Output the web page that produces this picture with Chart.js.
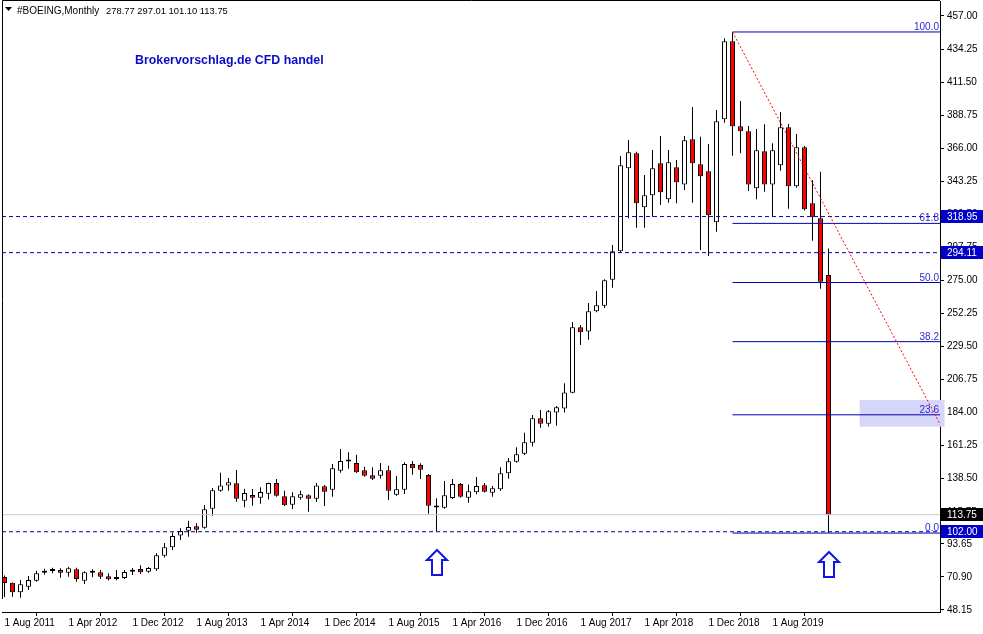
<!DOCTYPE html>
<html>
<head>
<meta charset="utf-8">
<script src="https://cdn.jsdelivr.net/npm/chart.js@4.4.1/dist/chart.umd.min.js"></script>
<style>
  html, body { margin: 0; padding: 0; background: #fff; }
  #wrap { width: 983px; height: 634px; }
</style>
</head>
<body>
<div id="wrap"><canvas id="myChart" width="983" height="634"></canvas></div>
<script>
// monthly candles, Aug 2011 .. Mar 2020 (index 0 = Aug 2011)
const opens = [
  70.8, 66.9, 60.3, 64.2, 68.3, 73.8, 75.0, 75.7, 73.8, 76.1,
  68.3, 73.8, 74.1, 71.3, 69.5, 70.2, 74.4, 76.4, 74.5, 76.1,
  85.5, 91.3, 99.5, 102.7, 105.7, 104.8, 117.9, 130.3, 133.9, 135.3,
  123.4, 127.3, 125.4, 128.2, 135.5, 126.4, 120.6, 125.4, 127.1, 124.7,
  133.3, 130.9, 144.0, 150.4, 149.3, 144.3, 140.9, 140.6, 144.3, 127.5,
  130.9, 148.6, 147.9, 141.1, 119.2, 118.6, 125.2, 134.9, 125.4, 129.1,
  134.0, 128.9, 131.2, 142.2, 150.2, 155.7, 163.3, 180.1, 176.4, 184.0,
  186.9, 197.7, 242.7, 239.9, 253.7, 257.6, 275.5, 295.0, 352.2, 362.5,
  325.3, 333.6, 355.6, 330.8, 352.9, 341.1, 372.1, 354.9, 350.1, 315.0,
  385.9, 439.6, 381.1, 377.6, 338.4, 363.9, 341.1, 354.2, 380.4, 339.8,
  366.6, 328.1, 317.8, 278.77
];
const highs = [
  71.8, 67.1, 68.8, 71.5, 75.2, 76.6, 77.3, 76.9, 77.9, 77.3,
  74.8, 76.1, 75.6, 73.4, 75.6, 75.6, 77.0, 79.0, 77.7, 87.2,
  94.3, 101.5, 104.4, 109.6, 107.8, 120.4, 132.1, 142.6, 139.0, 144.5,
  131.6, 131.4, 132.6, 135.8, 138.3, 130.3, 129.2, 130.3, 127.8, 135.5,
  134.2, 148.6, 158.9, 156.7, 155.0, 146.8, 146.4, 149.3, 147.5, 140.4,
  149.8, 150.7, 149.1, 141.8, 125.0, 136.9, 138.3, 135.5, 134.6, 139.7,
  135.5, 133.5, 146.4, 152.8, 160.1, 170.2, 182.4, 185.8, 185.8, 188.6,
  204.2, 246.4, 244.3, 259.4, 267.7, 275.8, 299.4, 360.6, 371.6, 363.5,
  347.6, 364.8, 374.4, 364.8, 357.9, 374.4, 394.4, 373.9, 368.9, 392.3,
  441.6, 446.0, 398.5, 381.3, 379.2, 382.5, 369.4, 390.9, 382.7, 375.8,
  367.5, 343.9, 349.8, 297.01
];
const lows = [
  57.0, 57.3, 56.6, 61.9, 67.5, 72.4, 73.4, 70.4, 71.1, 67.6,
  66.0, 70.6, 69.4, 68.5, 68.6, 69.4, 72.3, 73.0, 73.8, 74.9,
  84.2, 89.5, 96.3, 98.6, 101.3, 104.1, 113.0, 129.5, 130.3, 122.7,
  118.8, 119.9, 121.3, 124.2, 126.1, 119.8, 117.7, 124.0, 115.8, 122.5,
  119.7, 126.1, 142.6, 145.4, 142.5, 139.9, 137.6, 138.5, 123.9, 126.8,
  128.0, 141.3, 138.3, 114.4, 102.5, 117.9, 124.5, 125.4, 122.0, 127.8,
  129.0, 126.1, 130.0, 138.5, 149.5, 154.8, 160.6, 173.6, 174.5, 175.0,
  184.0, 197.3, 230.5, 234.2, 253.0, 256.0, 270.0, 294.0, 317.7, 311.3,
  311.3, 318.9, 326.9, 328.5, 328.1, 337.2, 328.5, 295.9, 291.8, 308.5,
  383.6, 360.8, 362.5, 336.5, 330.8, 336.1, 318.9, 350.5, 324.4, 338.8,
  323.2, 302.3, 269.3, 101.10
];
const closes = [
  66.7, 60.3, 65.8, 68.8, 73.4, 75.2, 75.3, 73.8, 76.8, 69.4,
  74.1, 74.3, 71.1, 69.3, 70.2, 74.3, 75.0, 74.1, 77.0, 85.8,
  91.3, 99.1, 102.5, 105.3, 103.4, 117.4, 130.5, 133.9, 136.0, 124.7,
  128.7, 125.4, 129.4, 135.5, 126.8, 120.2, 126.4, 127.8, 124.7, 133.9,
  129.6, 145.7, 150.7, 150.9, 142.9, 140.6, 138.5, 144.3, 130.2, 131.2,
  148.6, 145.7, 144.7, 119.9, 118.7, 127.1, 134.9, 126.1, 129.8, 133.5,
  129.6, 131.9, 142.2, 150.5, 155.3, 163.6, 180.1, 176.4, 184.9, 187.7,
  197.9, 242.7, 239.3, 253.7, 257.9, 275.1, 295.0, 354.2, 363.2, 328.1,
  333.6, 352.2, 335.7, 356.3, 342.5, 371.4, 355.6, 346.7, 319.8, 384.5,
  439.6, 381.1, 377.6, 341.1, 364.6, 341.1, 364.6, 380.4, 339.8, 366.6,
  323.9, 318.5, 274.1, 113.75
];

// time axis
const tickIdx = [0, 8, 16, 24, 32, 40, 48, 56, 64, 72, 80, 88, 96];
const tickLabels = ['1 Aug 2011', '1 Apr 2012', '1 Dec 2012', '1 Aug 2013', '1 Apr 2014',
  '1 Dec 2014', '1 Aug 2015', '1 Apr 2016', '1 Dec 2016', '1 Aug 2017', '1 Apr 2018',
  '1 Dec 2018', '1 Aug 2019'];
// price axis
const priceTicks = [457.00, 434.25, 411.50, 388.75, 366.00, 343.25, 320.50, 297.75, 275.00,
  252.25, 229.50, 206.75, 184.00, 161.25, 138.50, 115.75, 93.65, 70.90, 48.15];

// drawn objects
const hLevels = [318.95, 294.11];
const lowLevel = 102.00;
const bidLevel = 113.75;
const fibHigh = 446.0, fibLow = 101.10, fibStart = 91;
const fibRatios = [1.0, 0.618, 0.5, 0.382, 0.236, 0.0];
const fibNames = ['100.0', '61.8', '50.0', '38.2', '23.6', '0.0'];
const trendX = [91, 117];
const trendY = [446.0, 175.5];
const zoneX = [106.9, 117.5];
const zoneY = [174.3, 192.7];
const arrowIdx = [54, 103];
const arrowTop = [89.4, 88.3];
const tagValues = [318.95, 294.11, 113.75, 102.00];
const tagColors = ['#0000c8', '#0000c8', '#000000', '#0000c8'];

const X_MIN = -0.3125, X_MAX = 116.9375;
const Y_MIN = 46.76, Y_MAX = 467.32;

const hLine = (v, x0, x1, color, dash) => ({
  type: 'line',
  data: [{x: x0, y: v}, {x: x1, y: v}],
  borderColor: color, borderWidth: 1, borderDash: dash,
  pointRadius: 0, order: 2
});

const datasets = [];
datasets.push({
  type: 'line',
  data: trendX.map((x, i) => ({x: x, y: trendY[i]})),
  borderColor: '#ff0000', borderWidth: 1, borderDash: [2, 2],
  pointRadius: 0, order: 0
});
hLevels.forEach(v => datasets.push(hLine(v, X_MIN, X_MAX + 1, '#0000c8', [4, 3])));
datasets.push(hLine(lowLevel, X_MIN, X_MAX + 1, '#0000a0', [4, 3]));
datasets.push(hLine(bidLevel, X_MIN, X_MAX + 1, '#c8c8d2', []));
fibRatios.forEach(r => datasets.push(
  hLine(fibLow + r * (fibHigh - fibLow), fibStart, X_MAX + 1, '#0000b4', [])));

datasets.push({
  type: 'bar',
  data: opens.map((o, i) => ({x: i, y: [o, closes[i]]})),
  backgroundColor: opens.map((o, i) => closes[i] >= o ? '#ffffff' : '#ff0000'),
  borderColor: '#000000', borderWidth: 1, borderSkipped: false,
  barThickness: 5, minBarLength: 2, grouped: false, inflateAmount: 0, order: 5
});
datasets.push({
  type: 'bar',
  data: highs.map((h, i) => ({x: i, y: [lows[i], h]})),
  backgroundColor: '#000000', borderWidth: 0,
  barThickness: 1, grouped: false, inflateAmount: 0, order: 6
});

const overlay = {
  id: 'overlay',
  beforeDatasetsDraw(chart) {
    const {ctx, scales: {x, y}} = chart;
    const x0 = x.getPixelForValue(zoneX[0]), x1 = x.getPixelForValue(zoneX[1]);
    const y0 = y.getPixelForValue(zoneY[1]), y1 = y.getPixelForValue(zoneY[0]);
    ctx.save();
    ctx.fillStyle = '#d6d6fa';
    ctx.fillRect(x0, y0, x1 - x0, y1 - y0);
    ctx.restore();
  },
  afterDatasetsDraw(chart) {
    const {ctx, chartArea: a, scales: {x, y}} = chart;
    ctx.save();
    // fib labels
    ctx.font = '10px "Liberation Sans"';
    ctx.fillStyle = '#2a2ad2';
    ctx.textAlign = 'right';
    ctx.textBaseline = 'alphabetic';
    fibRatios.forEach((r, i) => {
      const py = y.getPixelForValue(fibLow + r * (fibHigh - fibLow));
      ctx.fillText(fibNames[i], a.right - 1, py - 2);
    });
    // arrows
    ctx.strokeStyle = '#1414e6';
    ctx.fillStyle = '#ffffff';
    ctx.lineWidth = 2;
    arrowIdx.forEach((idx, i) => {
      const cx = Math.round(x.getPixelForValue(idx));
      const t = Math.round(y.getPixelForValue(arrowTop[i]));
      ctx.beginPath();
      ctx.moveTo(cx, t);
      ctx.lineTo(cx + 10, t + 10);
      ctx.lineTo(cx + 5, t + 10);
      ctx.lineTo(cx + 5, t + 25);
      ctx.lineTo(cx - 5, t + 25);
      ctx.lineTo(cx - 5, t + 10);
      ctx.lineTo(cx - 10, t + 10);
      ctx.closePath();
      ctx.fill();
      ctx.stroke();
    });
    // frame (left, top)
    ctx.strokeStyle = '#000';
    ctx.lineWidth = 1;
    ctx.beginPath();
    ctx.moveTo(2.5, a.bottom - 13);
    ctx.lineTo(2.5, 0.5);
    ctx.lineTo(a.right, 0.5);
    ctx.stroke();
    // header
    ctx.fillStyle = '#000';
    ctx.beginPath();
    ctx.moveTo(5, 7); ctx.lineTo(12, 7); ctx.lineTo(8.5, 11); ctx.closePath();
    ctx.fill();
    ctx.textAlign = 'left';
    ctx.font = '10px "Liberation Sans"';
    ctx.fillText('#BOEING,Monthly', 17, 14);
    ctx.font = '9.4px "Liberation Sans"';
    ctx.fillText('278.77 297.01 101.10 113.75', 106, 14);
    // brand
    ctx.font = 'bold 12.4px "Liberation Sans"';
    ctx.fillStyle = '#0c0cc8';
    ctx.fillText('Brokervorschlag.de CFD handel', 135, 64);
    ctx.restore();
  },
  afterDraw(chart) {
    const {ctx, chartArea: a, scales: {y}} = chart;
    ctx.save();
    ctx.font = '10px "Liberation Sans"';
    ctx.textAlign = 'left';
    ctx.textBaseline = 'middle';
    tagValues.forEach((v, i) => {
      const py = Math.round(y.getPixelForValue(v));
      ctx.fillStyle = tagColors[i];
      ctx.fillRect(a.right + 1, py - 7, 42, 13);
      ctx.fillStyle = '#ffffff';
      ctx.fillText(v.toFixed(2), a.right + 7, py);
    });
    ctx.restore();
  }
};

Chart.defaults.font.family = '"Liberation Sans", Arial, sans-serif';
Chart.defaults.font.size = 10;
Chart.defaults.color = '#000';

const noPad = s => { s.paddingTop = 0; s.paddingBottom = 0; s.paddingLeft = 0; s.paddingRight = 0; };

const config = {
  type: 'bar',
  data: {datasets: datasets},
  options: {
    responsive: false,
    animation: false,
    events: [],
    layout: {padding: {left: 2, top: 1, right: 0, bottom: 0}},
    plugins: {legend: {display: false}, tooltip: {enabled: false}},
    scales: {
      x: {
        type: 'linear', min: X_MIN, max: X_MAX, offset: false,
        afterBuildTicks: s => { s.ticks = tickIdx.map(v => ({value: v})); },
        afterFit: s => { s.height = 22; noPad(s); },
        ticks: {
          align: 'start', maxRotation: 0, minRotation: 0, autoSkip: false, padding: 1,
          callback: v => tickLabels[tickIdx.indexOf(v)]
        },
        grid: {drawOnChartArea: false, tickLength: 4, color: '#000'},
        border: {display: true, color: '#000'}
      },
      y: {
        type: 'linear', position: 'right', min: Y_MIN, max: Y_MAX,
        afterBuildTicks: s => { s.ticks = priceTicks.map(v => ({value: v})); },
        afterFit: s => { s.width = 43; noPad(s); },
        ticks: {crossAlign: 'near', padding: 3, callback: v => v.toFixed(2)},
        grid: {drawOnChartArea: false, tickLength: 4, color: '#000'},
        border: {display: true, color: '#000'}
      }
    }
  },
  plugins: [overlay]
};

const myChart = new Chart(document.getElementById('myChart'), config);
</script>
</body>
</html>
